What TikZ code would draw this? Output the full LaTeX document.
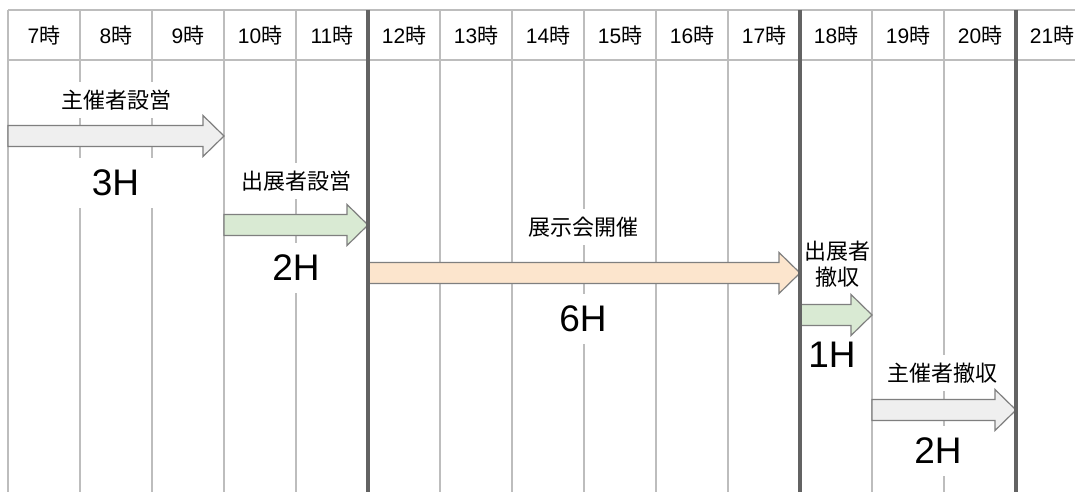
\documentclass[tikz,border=0pt]{standalone}
\usepackage{fontspec}
\setmainfont{Liberation Sans}
\newfontfamily\cjk{Noto Sans CJK JP}
\definecolor{thincol}{HTML}{BDBDBD}
\definecolor{thickcol}{HTML}{636363}
\definecolor{edgecol}{HTML}{7F7F7F}
\definecolor{grayfill}{HTML}{EFEFEF}
\definecolor{greenfill}{HTML}{D9EAD3}
\definecolor{peachfill}{HTML}{FCE5CD}
\newcommand\tlarrow[4]{%
  \draw[arrowbox=#1] (#2,#4-10.5) -- (#3-21,#4-10.5) -- (#3-21,#4-20.5) -- (#3,#4)
    -- (#3-21,#4+20.5) -- (#3-21,#4+10.5) -- (#2,#4+10.5) -- cycle;}
\begin{document}
\begin{tikzpicture}[x=1pt,y=-1pt,
  thinline/.style={draw=thincol,line width=1.2pt},
  thickline/.style={draw=thickcol,line width=3.6pt},
  hdr/.style={font=\fontsize{21}{21}\selectfont, inner sep=0pt},
  lbl/.style={font=\fontsize{22}{26}\selectfont\cjk, fill=white, inner xsep=12pt, inner ysep=8pt, align=center},
  big/.style={font=\fontsize{37}{37}\selectfont, fill=white, inner xsep=15pt, inner ysep=12pt},
  arrowbox/.style={draw=edgecol, line width=1.2pt, line join=miter, fill=#1}]
\useasboundingbox[fill=white] (0,0) rectangle (1075,492);
% thin grid
\foreach \x in {8,80,152,224,296,440,512,584,656,728,872,944}
  \draw[thinline] (\x,10) -- (\x,492);
\draw[thinline] (8,10) -- (1075,10);
\draw[thinline] (8,60) -- (1075,60);
% header
\foreach \h [count=\i from 0] in {7,...,21}
  \node[hdr] (h\h) at (44+72*\i,36) {\h{\cjk 時}};
% labels
\node[lbl] (l1) at (116,100) {主催者設営};
\node[big] (d1) at (115.5,183) {3H};
\node[lbl] (l2) at (296,181) {出展者設営};
\node[big] (d2) at (296,268) {2H};
\node[lbl] (l3) at (583,227) {展示会開催};
\node[big] (d3) at (583,319) {6H};
\node[lbl, inner xsep=1pt, inner ysep=2pt] (l4) at (837,264) {出展者\\撤収};
\node[big] (d4) at (832,355) {1H};
\node[lbl] (l5) at (942,373) {主催者撤収};
\node[big] (d5) at (938,451) {2H};
% arrows
\tlarrow{grayfill}{8}{224}{136}
\tlarrow{greenfill}{224}{368}{225}
\tlarrow{peachfill}{368}{800}{273}
\tlarrow{greenfill}{800}{872}{315}
\tlarrow{grayfill}{872}{1016}{410}
% thick lines
\foreach \x in {368,800,1016}
  \draw[thickline] (\x,10) -- (\x,492);
\end{tikzpicture}
\end{document}
